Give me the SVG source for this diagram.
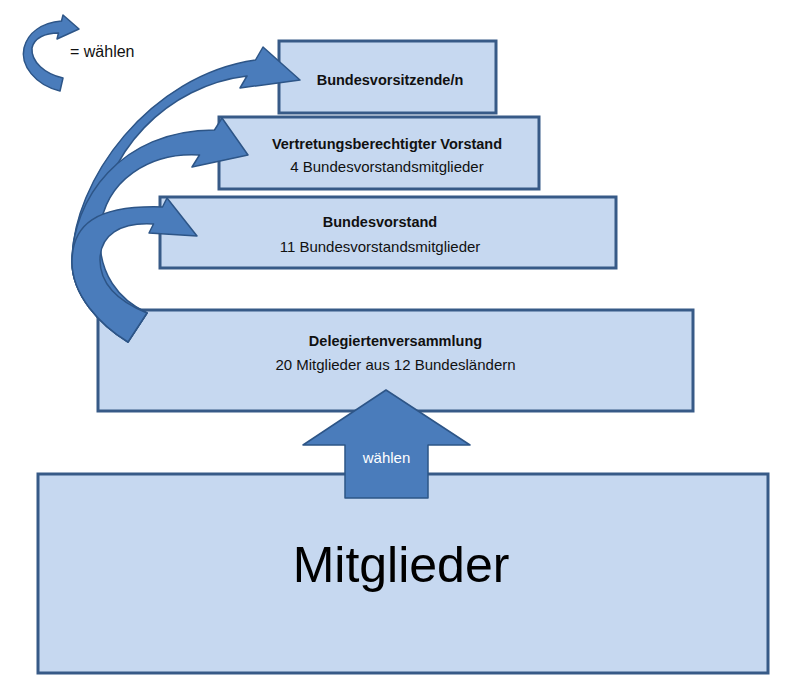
<svg xmlns="http://www.w3.org/2000/svg" width="800" height="696" viewBox="0 0 800 696">
<style>
.box{fill:#c6d8f0;stroke:#375a87;stroke-width:3}
.arr{fill:#4a7cbb;stroke:#2d5587;stroke-width:1.5;stroke-linejoin:round}
.b{font-family:"Liberation Sans",Arial,sans-serif;font-weight:bold;font-size:14.5px;fill:#111;text-anchor:middle}
.r{font-family:"Liberation Sans",Arial,sans-serif;font-size:15px;fill:#111;text-anchor:middle}
</style>
<rect width="800" height="696" fill="#ffffff"/>
<g id="legend">
<path class="arr" d="M60,91 C35,85 20,65 24,48 C28,32 42,23 61.5,21 L63,15 L79,29 L57,39 L58.5,33 C45,33 34,38 32,48 C31,62 45,74 63,78 Z"/>
<text x="70" y="57" font-family="Liberation Sans,Arial,sans-serif" font-size="16" fill="#111">= wählen</text>
</g>
<g id="mitglieder">
<rect class="box" x="38" y="474" width="730" height="199"/>
<text x="401" y="582" font-family="Liberation Sans,Arial,sans-serif" font-size="50" fill="#000" text-anchor="middle">Mitglieder</text>
</g>
<g id="delegiertenversammlung">
<rect class="box" x="98" y="310" width="595" height="101"/>
<text class="b" x="395.5" y="346">Delegiertenversammlung</text>
<text class="r" x="395.5" y="370">20 Mitglieder aus 12 Bundesländern</text>
</g>
<g id="bundesvorstand">
<rect class="box" x="160" y="197" width="456" height="71"/>
<text class="b" x="380" y="227">Bundesvorstand</text>
<text class="r" x="380" y="252">11 Bundesvorstandsmitglieder</text>
</g>
<g id="vertretungsberechtigter-vorstand">
<rect class="box" x="219" y="117" width="320" height="72"/>
<text class="b" x="387" y="149">Vertretungsberechtigter Vorstand</text>
<text class="r" x="387" y="172">4 Bundesvorstandsmitglieder</text>
</g>
<g id="bundesvorsitzende">
<rect class="box" x="279" y="41" width="217" height="72"/>
<text class="b" x="390" y="85">Bundesvorsitzende/n</text>
</g>
<g id="connectors">
<path class="arr" d="M128,342 C100,325 72,295 72,262 C72,180 150,75 255.5,60 L263,47 L300,80 L240,88 L247,76 C170,85 100,150 97,240 C96,280 120,300 147,313 Z"/>
<path class="arr" d="M128,342 C100,325 72,295 72,262 C72,200 120,130 214.5,130 L222,118 L248,155 L192,167 L199.5,155 C150,152 105,180 100,230 C97,275 120,300 147,313 Z"/>
<path class="arr" d="M128,342 C100,325 72,295 72,262 C72,225 95,205 162.5,207 L167,198 L197,236 L149,233 L153.5,224 C120,222 100,235 100,260 C100,285 120,302 147,313 Z"/>
<path class="arr" d="M386,390 L470,445 L428,445 L428,498 L345,498 L345,445 L303,445 Z"/>
<text x="386.5" y="463" font-family="Liberation Sans,Arial,sans-serif" font-size="15" fill="#ffffff" text-anchor="middle">wählen</text>
</g>
</svg>
